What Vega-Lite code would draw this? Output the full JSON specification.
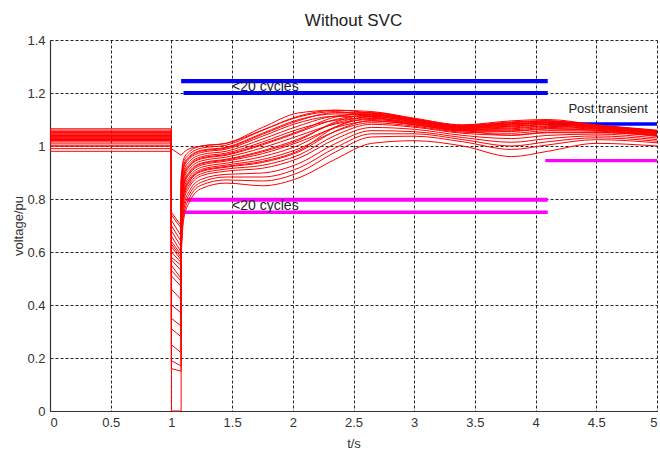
{
  "$schema": "https://vega.github.io/schema/vega-lite/v6.json",
  "width": 607,
  "height": 371,
  "autosize": {"type": "none"},
  "padding": {"left": 50, "top": 40, "right": 3, "bottom": 38},
  "background": "white",
  "config": {
    "view": {"stroke": null},
    "font": "Liberation Sans",
    "axis": {
      "grid": true, "gridColor": "#000000", "gridDash": [3, 2], "gridOpacity": 0.85, "gridWidth": 1,
      "domainColor": "#333333", "domainWidth": 1.2, "ticks": false,
      "labelFont": "Liberation Sans", "labelFontSize": 13, "labelColor": "#333333", "labelPadding": 5,
      "titleFont": "Liberation Sans", "titleFontSize": 13, "titleFontWeight": "normal", "titleColor": "#333333"
    }
  },
  "title": {"text": "Without SVC", "fontSize": 17, "fontWeight": "normal", "font": "Liberation Sans", "color": "#222222", "anchor": "middle", "offset": 4},
  "datasets": {
    "pre": [
      {"c":1,"i":0,"t":0,"v":1.065},{"c":1,"i":1,"t":1,"v":1.065},{"c":1,"i":2,"t":1,"v":0.72},{"c":1,"i":3,"t":1.08,"v":0.66},{"c":1,"i":4,"t":1.08,"v":0.88},
      {"c":2,"i":0,"t":0,"v":1.055},{"c":2,"i":1,"t":1,"v":1.055},{"c":2,"i":2,"t":1,"v":0.70},{"c":2,"i":3,"t":1.08,"v":0.64},{"c":2,"i":4,"t":1.08,"v":0.86},
      {"c":3,"i":0,"t":0,"v":1.05},{"c":3,"i":1,"t":1,"v":1.05},{"c":3,"i":2,"t":1,"v":0.68},{"c":3,"i":3,"t":1.08,"v":0.62},{"c":3,"i":4,"t":1.08,"v":0.84},
      {"c":4,"i":0,"t":0,"v":1.05},{"c":4,"i":1,"t":1,"v":1.05},{"c":4,"i":2,"t":1,"v":0.66},{"c":4,"i":3,"t":1.08,"v":0.60},{"c":4,"i":4,"t":1.08,"v":0.82},
      {"c":5,"i":0,"t":0,"v":1.045},{"c":5,"i":1,"t":1,"v":1.045},{"c":5,"i":2,"t":1,"v":0.64},{"c":5,"i":3,"t":1.08,"v":0.59},{"c":5,"i":4,"t":1.08,"v":0.80},
      {"c":6,"i":0,"t":0,"v":1.04},{"c":6,"i":1,"t":1,"v":1.04},{"c":6,"i":2,"t":1,"v":0.62},{"c":6,"i":3,"t":1.08,"v":0.57},{"c":6,"i":4,"t":1.08,"v":0.78},
      {"c":7,"i":0,"t":0,"v":1.04},{"c":7,"i":1,"t":1,"v":1.04},{"c":7,"i":2,"t":1,"v":0.60},{"c":7,"i":3,"t":1.08,"v":0.56},{"c":7,"i":4,"t":1.08,"v":0.76},
      {"c":8,"i":0,"t":0,"v":1.035},{"c":8,"i":1,"t":1,"v":1.035},{"c":8,"i":2,"t":1,"v":0.58},{"c":8,"i":3,"t":1.08,"v":0.55},{"c":8,"i":4,"t":1.08,"v":0.75},
      {"c":9,"i":0,"t":0,"v":1.03},{"c":9,"i":1,"t":1,"v":1.03},{"c":9,"i":2,"t":1,"v":0.51},{"c":9,"i":3,"t":1.08,"v":0.47},{"c":9,"i":4,"t":1.08,"v":0.74},
      {"c":10,"i":0,"t":0,"v":1.03},{"c":10,"i":1,"t":1,"v":1.03},{"c":10,"i":2,"t":1,"v":0.46},{"c":10,"i":3,"t":1.08,"v":0.42},{"c":10,"i":4,"t":1.08,"v":0.73},
      {"c":11,"i":0,"t":0,"v":1.025},{"c":11,"i":1,"t":1,"v":1.025},{"c":11,"i":2,"t":1,"v":0.40},{"c":11,"i":3,"t":1.08,"v":0.37},{"c":11,"i":4,"t":1.08,"v":0.72},
      {"c":12,"i":0,"t":0,"v":1.025},{"c":12,"i":1,"t":1,"v":1.025},{"c":12,"i":2,"t":1,"v":0.35},{"c":12,"i":3,"t":1.08,"v":0.32},{"c":12,"i":4,"t":1.08,"v":0.71},
      {"c":13,"i":0,"t":0,"v":1.02},{"c":13,"i":1,"t":1,"v":1.02},{"c":13,"i":2,"t":1,"v":0.31},{"c":13,"i":3,"t":1.08,"v":0.28},{"c":13,"i":4,"t":1.08,"v":0.70},
      {"c":14,"i":0,"t":0,"v":1.02},{"c":14,"i":1,"t":1,"v":1.02},{"c":14,"i":2,"t":1,"v":0.25},{"c":14,"i":3,"t":1.08,"v":0.22},{"c":14,"i":4,"t":1.08,"v":0.68},
      {"c":15,"i":0,"t":0,"v":1.015},{"c":15,"i":1,"t":1,"v":1.015},{"c":15,"i":2,"t":1,"v":0.19},{"c":15,"i":3,"t":1.08,"v":0.17},{"c":15,"i":4,"t":1.08,"v":0.66},
      {"c":16,"i":0,"t":0,"v":1.008},{"c":16,"i":1,"t":1,"v":1.008},{"c":16,"i":2,"t":1,"v":0.16},{"c":16,"i":3,"t":1.08,"v":0.15},{"c":16,"i":4,"t":1.08,"v":0.64},
      {"c":17,"i":0,"t":0,"v":1.0},{"c":17,"i":1,"t":1,"v":1.0},{"c":17,"i":2,"t":1,"v":0.0},{"c":17,"i":3,"t":1.08,"v":0.0},{"c":17,"i":4,"t":1.08,"v":0.62},
      {"c":18,"i":0,"t":0,"v":0.99},{"c":18,"i":1,"t":1,"v":0.99},{"c":18,"i":2,"t":1,"v":0.55},{"c":18,"i":3,"t":1.08,"v":0.50},{"c":18,"i":4,"t":1.08,"v":0.60},
      {"c":19,"i":0,"t":0,"v":0.98},{"c":19,"i":1,"t":1,"v":0.98},{"c":19,"i":2,"t":1,"v":0.75},{"c":19,"i":3,"t":1.08,"v":0.70},{"c":19,"i":4,"t":1.08,"v":0.58},
      {"c":20,"i":0,"t":0,"v":1.0},{"c":20,"i":1,"t":1,"v":1.0},{"c":20,"i":2,"t":1,"v":0.99},{"c":20,"i":3,"t":1.08,"v":0.965},{"c":20,"i":4,"t":1.08,"v":0.965},
      {"c":21,"i":0,"t":0,"v":1.06},{"c":21,"i":1,"t":1,"v":1.06},{"c":21,"i":2,"t":1,"v":0.74},{"c":21,"i":3,"t":1.08,"v":0.69},{"c":21,"i":4,"t":1.08,"v":0.87},
      {"c":22,"i":0,"t":0,"v":1.045},{"c":22,"i":1,"t":1,"v":1.045},{"c":22,"i":2,"t":1,"v":0.63},{"c":22,"i":3,"t":1.08,"v":0.58},{"c":22,"i":4,"t":1.08,"v":0.79},
      {"c":23,"i":0,"t":0,"v":1.035},{"c":23,"i":1,"t":1,"v":1.035},{"c":23,"i":2,"t":1,"v":0.57},{"c":23,"i":3,"t":1.08,"v":0.53},{"c":23,"i":4,"t":1.08,"v":0.75},
      {"c":24,"i":0,"t":0,"v":1.03},{"c":24,"i":1,"t":1,"v":1.03},{"c":24,"i":2,"t":1,"v":0.53},{"c":24,"i":3,"t":1.08,"v":0.49},{"c":24,"i":4,"t":1.08,"v":0.72}
    ],
    "post": [
      {"c":1,"t":1.08,"v":0.88},{"c":1,"t":1.1,"v":0.95},{"c":1,"t":1.15,"v":0.98},{"c":1,"t":1.25,"v":1.0},{"c":1,"t":1.45,"v":1.01},{"c":1,"t":1.75,"v":1.07},{"c":1,"t":2.05,"v":1.125},{"c":1,"t":2.35,"v":1.135},{"c":1,"t":2.65,"v":1.124},{"c":1,"t":3.0,"v":1.101},{"c":1,"t":3.4,"v":1.076},{"c":1,"t":3.8,"v":1.088},{"c":1,"t":4.1,"v":1.094},{"c":1,"t":4.5,"v":1.077},{"c":1,"t":5.0,"v":1.057},
      {"c":2,"t":1.08,"v":0.86},{"c":2,"t":1.1,"v":0.939},{"c":2,"t":1.15,"v":0.97},{"c":2,"t":1.25,"v":0.992},{"c":2,"t":1.45,"v":1.003},{"c":2,"t":1.75,"v":1.059},{"c":2,"t":2.05,"v":1.113},{"c":2,"t":2.35,"v":1.135},{"c":2,"t":2.65,"v":1.13},{"c":2,"t":3.0,"v":1.105},{"c":2,"t":3.4,"v":1.08},{"c":2,"t":3.8,"v":1.095},{"c":2,"t":4.1,"v":1.1},{"c":2,"t":4.5,"v":1.08},{"c":2,"t":5.0,"v":1.06},
      {"c":3,"t":1.08,"v":0.84},{"c":3,"t":1.1,"v":0.927},{"c":3,"t":1.15,"v":0.961},{"c":3,"t":1.25,"v":0.984},{"c":3,"t":1.45,"v":0.995},{"c":3,"t":1.75,"v":1.048},{"c":3,"t":2.05,"v":1.1},{"c":3,"t":2.35,"v":1.121},{"c":3,"t":2.65,"v":1.118},{"c":3,"t":3.0,"v":1.097},{"c":3,"t":3.4,"v":1.072},{"c":3,"t":3.8,"v":1.082},{"c":3,"t":4.1,"v":1.088},{"c":3,"t":4.5,"v":1.073},{"c":3,"t":5.0,"v":1.054},
      {"c":4,"t":1.08,"v":0.82},{"c":4,"t":1.1,"v":0.916},{"c":4,"t":1.15,"v":0.952},{"c":4,"t":1.25,"v":0.976},{"c":4,"t":1.45,"v":0.988},{"c":4,"t":1.75,"v":1.037},{"c":4,"t":2.05,"v":1.088},{"c":4,"t":2.35,"v":1.112},{"c":4,"t":2.65,"v":1.112},{"c":4,"t":3.0,"v":1.092},{"c":4,"t":3.4,"v":1.068},{"c":4,"t":3.8,"v":1.075},{"c":4,"t":4.1,"v":1.082},{"c":4,"t":4.5,"v":1.07},{"c":4,"t":5.0,"v":1.051},
      {"c":5,"t":1.08,"v":0.80},{"c":5,"t":1.1,"v":0.904},{"c":5,"t":1.15,"v":0.942},{"c":5,"t":1.25,"v":0.968},{"c":5,"t":1.45,"v":0.98},{"c":5,"t":1.75,"v":1.026},{"c":5,"t":2.05,"v":1.076},{"c":5,"t":2.35,"v":1.113},{"c":5,"t":2.65,"v":1.12},{"c":5,"t":3.0,"v":1.098},{"c":5,"t":3.4,"v":1.074},{"c":5,"t":3.8,"v":1.084},{"c":5,"t":4.1,"v":1.09},{"c":5,"t":4.5,"v":1.074},{"c":5,"t":5.0,"v":1.055},
      {"c":6,"t":1.08,"v":0.78},{"c":6,"t":1.1,"v":0.893},{"c":6,"t":1.15,"v":0.933},{"c":6,"t":1.25,"v":0.96},{"c":6,"t":1.45,"v":0.973},{"c":6,"t":1.75,"v":1.015},{"c":6,"t":2.05,"v":1.064},{"c":6,"t":2.35,"v":1.097},{"c":6,"t":2.65,"v":1.106},{"c":6,"t":3.0,"v":1.088},{"c":6,"t":3.4,"v":1.064},{"c":6,"t":3.8,"v":1.068},{"c":6,"t":4.1,"v":1.076},{"c":6,"t":4.5,"v":1.066},{"c":6,"t":5.0,"v":1.048},
      {"c":7,"t":1.08,"v":0.76},{"c":7,"t":1.1,"v":0.881},{"c":7,"t":1.15,"v":0.923},{"c":7,"t":1.25,"v":0.952},{"c":7,"t":1.45,"v":0.965},{"c":7,"t":1.75,"v":1.004},{"c":7,"t":2.05,"v":1.052},{"c":7,"t":2.35,"v":1.1},{"c":7,"t":2.65,"v":1.116},{"c":7,"t":3.0,"v":1.095},{"c":7,"t":3.4,"v":1.07},{"c":7,"t":3.8,"v":1.079},{"c":7,"t":4.1,"v":1.086},{"c":7,"t":4.5,"v":1.072},{"c":7,"t":5.0,"v":1.053},
      {"c":8,"t":1.08,"v":0.75},{"c":8,"t":1.1,"v":0.87},{"c":8,"t":1.15,"v":0.914},{"c":8,"t":1.25,"v":0.944},{"c":8,"t":1.45,"v":0.958},{"c":8,"t":1.75,"v":0.993},{"c":8,"t":2.05,"v":1.039},{"c":8,"t":2.35,"v":1.083},{"c":8,"t":2.65,"v":1.1},{"c":8,"t":3.0,"v":1.084},{"c":8,"t":3.4,"v":1.06},{"c":8,"t":3.8,"v":1.061},{"c":8,"t":4.1,"v":1.07},{"c":8,"t":4.5,"v":1.063},{"c":8,"t":5.0,"v":1.045},
      {"c":9,"t":1.08,"v":0.74},{"c":9,"t":1.1,"v":0.858},{"c":9,"t":1.15,"v":0.904},{"c":9,"t":1.25,"v":0.936},{"c":9,"t":1.45,"v":0.95},{"c":9,"t":1.75,"v":0.982},{"c":9,"t":2.05,"v":1.027},{"c":9,"t":2.35,"v":1.086},{"c":9,"t":2.65,"v":1.11},{"c":9,"t":3.0,"v":1.091},{"c":9,"t":3.4,"v":1.066},{"c":9,"t":3.8,"v":1.072},{"c":9,"t":4.1,"v":1.08},{"c":9,"t":4.5,"v":1.068},{"c":9,"t":5.0,"v":1.05},
      {"c":10,"t":1.08,"v":0.73},{"c":10,"t":1.1,"v":0.847},{"c":10,"t":1.15,"v":0.895},{"c":10,"t":1.25,"v":0.928},{"c":10,"t":1.45,"v":0.943},{"c":10,"t":1.75,"v":0.971},{"c":10,"t":2.05,"v":1.015},{"c":10,"t":2.35,"v":1.069},{"c":10,"t":2.65,"v":1.094},{"c":10,"t":3.0,"v":1.08},{"c":10,"t":3.4,"v":1.056},{"c":10,"t":3.8,"v":1.055},{"c":10,"t":4.1,"v":1.064},{"c":10,"t":4.5,"v":1.059},{"c":10,"t":5.0,"v":1.042},
      {"c":11,"t":1.08,"v":0.72},{"c":11,"t":1.1,"v":0.835},{"c":11,"t":1.15,"v":0.885},{"c":11,"t":1.25,"v":0.92},{"c":11,"t":1.45,"v":0.935},{"c":11,"t":1.75,"v":0.96},{"c":11,"t":2.05,"v":1.003},{"c":11,"t":2.35,"v":1.072},{"c":11,"t":2.65,"v":1.104},{"c":11,"t":3.0,"v":1.086},{"c":11,"t":3.4,"v":1.062},{"c":11,"t":3.8,"v":1.065},{"c":11,"t":4.1,"v":1.074},{"c":11,"t":4.5,"v":1.065},{"c":11,"t":5.0,"v":1.047},
      {"c":12,"t":1.08,"v":0.71},{"c":12,"t":1.1,"v":0.824},{"c":12,"t":1.15,"v":0.876},{"c":12,"t":1.25,"v":0.912},{"c":12,"t":1.45,"v":0.928},{"c":12,"t":1.75,"v":0.949},{"c":12,"t":2.05,"v":0.99},{"c":12,"t":2.35,"v":1.055},{"c":12,"t":2.65,"v":1.088},{"c":12,"t":3.0,"v":1.075},{"c":12,"t":3.4,"v":1.052},{"c":12,"t":3.8,"v":1.048},{"c":12,"t":4.1,"v":1.058},{"c":12,"t":4.5,"v":1.056},{"c":12,"t":5.0,"v":1.039},
      {"c":13,"t":1.08,"v":0.70},{"c":13,"t":1.1,"v":0.812},{"c":13,"t":1.15,"v":0.866},{"c":13,"t":1.25,"v":0.904},{"c":13,"t":1.45,"v":0.92},{"c":13,"t":1.75,"v":0.938},{"c":13,"t":2.05,"v":0.978},{"c":13,"t":2.35,"v":1.056},{"c":13,"t":2.65,"v":1.096},{"c":13,"t":3.0,"v":1.081},{"c":13,"t":3.4,"v":1.058},{"c":13,"t":3.8,"v":1.057},{"c":13,"t":4.1,"v":1.066},{"c":13,"t":4.5,"v":1.06},{"c":13,"t":5.0,"v":1.043},
      {"c":14,"t":1.08,"v":0.68},{"c":14,"t":1.1,"v":0.80},{"c":14,"t":1.15,"v":0.857},{"c":14,"t":1.25,"v":0.896},{"c":14,"t":1.45,"v":0.913},{"c":14,"t":1.75,"v":0.927},{"c":14,"t":2.05,"v":0.966},{"c":14,"t":2.35,"v":1.04},{"c":14,"t":2.65,"v":1.082},{"c":14,"t":3.0,"v":1.071},{"c":14,"t":3.4,"v":1.048},{"c":14,"t":3.8,"v":1.041},{"c":14,"t":4.1,"v":1.052},{"c":14,"t":4.5,"v":1.052},{"c":14,"t":5.0,"v":1.036},
      {"c":15,"t":1.08,"v":0.66},{"c":15,"t":1.1,"v":0.789},{"c":15,"t":1.15,"v":0.847},{"c":15,"t":1.25,"v":0.888},{"c":15,"t":1.45,"v":0.905},{"c":15,"t":1.75,"v":0.916},{"c":15,"t":2.05,"v":0.954},{"c":15,"t":2.35,"v":1.026},{"c":15,"t":2.65,"v":1.07},{"c":15,"t":3.0,"v":1.063},{"c":15,"t":3.4,"v":1.04},{"c":15,"t":3.8,"v":1.028},{"c":15,"t":4.1,"v":1.04},{"c":15,"t":4.5,"v":1.045},{"c":15,"t":5.0,"v":1.03},
      {"c":16,"t":1.08,"v":0.64},{"c":16,"t":1.1,"v":0.771},{"c":16,"t":1.15,"v":0.832},{"c":16,"t":1.25,"v":0.875},{"c":16,"t":1.45,"v":0.893},{"c":16,"t":1.75,"v":0.898},{"c":16,"t":2.05,"v":0.934},{"c":16,"t":2.35,"v":1.009},{"c":16,"t":2.65,"v":1.058},{"c":16,"t":3.0,"v":1.054},{"c":16,"t":3.4,"v":1.032},{"c":16,"t":3.8,"v":1.014},{"c":16,"t":4.1,"v":1.028},{"c":16,"t":4.5,"v":1.038},{"c":16,"t":5.0,"v":1.024},
      {"c":17,"t":1.08,"v":0.62},{"c":17,"t":1.1,"v":0.755},{"c":17,"t":1.15,"v":0.819},{"c":17,"t":1.25,"v":0.864},{"c":17,"t":1.45,"v":0.883},{"c":17,"t":1.75,"v":0.883},{"c":17,"t":2.05,"v":0.917},{"c":17,"t":2.35,"v":0.993},{"c":17,"t":2.65,"v":1.046},{"c":17,"t":3.0,"v":1.046},{"c":17,"t":3.4,"v":1.024},{"c":17,"t":3.8,"v":1.0},{"c":17,"t":4.1,"v":1.016},{"c":17,"t":4.5,"v":1.031},{"c":17,"t":5.0,"v":1.018},
      {"c":18,"t":1.08,"v":0.60},{"c":18,"t":1.1,"v":0.738},{"c":18,"t":1.15,"v":0.805},{"c":18,"t":1.25,"v":0.853},{"c":18,"t":1.45,"v":0.872},{"c":18,"t":1.75,"v":0.868},{"c":18,"t":2.05,"v":0.9},{"c":18,"t":2.35,"v":0.977},{"c":18,"t":2.65,"v":1.034},{"c":18,"t":3.0,"v":1.037},{"c":18,"t":3.4,"v":1.016},{"c":18,"t":3.8,"v":0.987},{"c":18,"t":4.1,"v":1.004},{"c":18,"t":4.5,"v":1.024},{"c":18,"t":5.0,"v":1.012},
      {"c":19,"t":1.08,"v":0.58},{"c":19,"t":1.1,"v":0.72},{"c":19,"t":1.15,"v":0.79},{"c":19,"t":1.25,"v":0.84},{"c":19,"t":1.45,"v":0.86},{"c":19,"t":1.75,"v":0.85},{"c":19,"t":2.05,"v":0.88},{"c":19,"t":2.35,"v":0.95},{"c":19,"t":2.65,"v":1.01},{"c":19,"t":3.0,"v":1.02},{"c":19,"t":3.4,"v":1.0},{"c":19,"t":3.8,"v":0.96},{"c":19,"t":4.1,"v":0.98},{"c":19,"t":4.5,"v":1.01},{"c":19,"t":5.0,"v":1.0},
      {"c":20,"t":1.08,"v":0.965},{"c":20,"t":1.1,"v":0.975},{"c":20,"t":1.15,"v":0.99},{"c":20,"t":1.25,"v":1.0},{"c":20,"t":1.45,"v":1.01},{"c":20,"t":1.75,"v":1.06},{"c":20,"t":2.05,"v":1.11},{"c":20,"t":2.35,"v":1.13},{"c":20,"t":2.65,"v":1.11},{"c":20,"t":3.0,"v":1.08},{"c":20,"t":3.4,"v":1.06},{"c":20,"t":3.8,"v":1.04},{"c":20,"t":4.1,"v":1.05},{"c":20,"t":4.5,"v":1.05},{"c":20,"t":5.0,"v":1.04},
      {"c":21,"t":1.08,"v":0.87},{"c":21,"t":1.1,"v":0.922},{"c":21,"t":1.15,"v":0.957},{"c":21,"t":1.25,"v":0.981},{"c":21,"t":1.45,"v":0.992},{"c":21,"t":1.75,"v":1.044},{"c":21,"t":2.05,"v":1.096},{"c":21,"t":2.35,"v":1.126},{"c":21,"t":2.65,"v":1.126},{"c":21,"t":3.0,"v":1.102},{"c":21,"t":3.4,"v":1.078},{"c":21,"t":3.8,"v":1.091},{"c":21,"t":4.1,"v":1.096},{"c":21,"t":4.5,"v":1.078},{"c":21,"t":5.0,"v":1.058},
      {"c":22,"t":1.08,"v":0.79},{"c":22,"t":1.1,"v":0.886},{"c":22,"t":1.15,"v":0.927},{"c":22,"t":1.25,"v":0.955},{"c":22,"t":1.45,"v":0.968},{"c":22,"t":1.75,"v":1.008},{"c":22,"t":2.05,"v":1.056},{"c":22,"t":2.35,"v":1.109},{"c":22,"t":2.65,"v":1.124},{"c":22,"t":3.0,"v":1.101},{"c":22,"t":3.4,"v":1.076},{"c":22,"t":3.8,"v":1.088},{"c":22,"t":4.1,"v":1.094},{"c":22,"t":4.5,"v":1.077},{"c":22,"t":5.0,"v":1.057},
      {"c":23,"t":1.08,"v":0.75},{"c":23,"t":1.1,"v":0.853},{"c":23,"t":1.15,"v":0.90},{"c":23,"t":1.25,"v":0.933},{"c":23,"t":1.45,"v":0.947},{"c":23,"t":1.75,"v":0.978},{"c":23,"t":2.05,"v":1.022},{"c":23,"t":2.35,"v":1.091},{"c":23,"t":2.65,"v":1.118},{"c":23,"t":3.0,"v":1.097},{"c":23,"t":3.4,"v":1.072},{"c":23,"t":3.8,"v":1.082},{"c":23,"t":4.1,"v":1.088},{"c":23,"t":4.5,"v":1.073},{"c":23,"t":5.0,"v":1.054},
      {"c":24,"t":1.08,"v":0.72},{"c":24,"t":1.1,"v":0.817},{"c":24,"t":1.15,"v":0.87},{"c":24,"t":1.25,"v":0.907},{"c":24,"t":1.45,"v":0.923},{"c":24,"t":1.75,"v":0.942},{"c":24,"t":2.05,"v":0.983},{"c":24,"t":2.35,"v":1.071},{"c":24,"t":2.65,"v":1.112},{"c":24,"t":3.0,"v":1.092},{"c":24,"t":3.4,"v":1.068},{"c":24,"t":3.8,"v":1.075},{"c":24,"t":4.1,"v":1.082},{"c":24,"t":4.5,"v":1.07},{"c":24,"t":5.0,"v":1.051}
    ],
    "lim": [
      {"lim":"upper_a","t":1.08,"t2":4.1,"v":1.245},
      {"lim":"upper_b","t":1.1,"t2":4.1,"v":1.2},
      {"lim":"lower_a","t":1.13,"t2":4.1,"v":0.797},
      {"lim":"lower_b","t":1.1,"t2":4.1,"v":0.75},
      {"lim":"post_up","t":4.1,"t2":5.0,"v":1.083},
      {"lim":"post_low","t":4.08,"t2":5.0,"v":0.945}
    ],
    "txt": [
      {"t":1.5,"v":1.222,"label":"<20 cycles"},
      {"t":1.5,"v":0.774,"label":"<20 cycles"}
    ],
    "txt2": [
      {"t":4.27,"v":1.14,"label":"Post transient"}
    ]
  },
  "encoding": {
    "x": {"field": "t", "type": "quantitative", "scale": {"domain": [0, 5], "nice": false, "zero": false},
      "axis": {"values": [0, 0.5, 1, 1.5, 2, 2.5, 3, 3.5, 4, 4.5, 5], "format": "~g", "title": "t/s", "titleY": 32, "titleBaseline": "middle"}},
    "y": {"field": "v", "type": "quantitative", "scale": {"domain": [0, 1.4], "nice": false},
      "axis": {"values": [0, 0.2, 0.4, 0.6, 0.8, 1, 1.2, 1.4], "format": "~g", "title": "voltage/pu", "titleX": -32, "titleBaseline": "middle", "titleAlign": "center"}}
  },
  "layer": [
    {
      "data": {"name": "lim"},
      "mark": {"type": "rule"},
      "encoding": {
        "x2": {"field": "t2"},
        "color": {"field": "lim", "type": "nominal", "legend": null,
          "scale": {"domain": ["upper_a", "upper_b", "lower_a", "lower_b", "post_up", "post_low"], "range": ["#0000FF", "#0000FF", "#FF00FF", "#FF00FF", "#0000FF", "#FF00FF"]}},
        "strokeWidth": {"field": "lim", "type": "nominal", "legend": null,
          "scale": {"domain": ["upper_a", "upper_b", "lower_a", "lower_b", "post_up", "post_low"], "range": [4.3, 3.2, 3, 3.8, 3.8, 3]}}
      }
    },
    {
      "data": {"name": "pre"},
      "mark": {"type": "line", "color": "#FF0000", "strokeWidth": 1, "interpolate": "linear"},
      "encoding": {"detail": {"field": "c", "type": "nominal"}, "order": {"field": "i", "type": "quantitative"}}
    },
    {
      "data": {"name": "post"},
      "mark": {"type": "line", "color": "#FF0000", "strokeWidth": 1, "interpolate": "monotone"},
      "encoding": {"detail": {"field": "c", "type": "nominal"}}
    },
    {
      "data": {"name": "txt"},
      "mark": {"type": "text", "align": "left", "baseline": "middle", "fontSize": 14, "font": "Liberation Sans", "color": "#222222"},
      "encoding": {"text": {"field": "label"}}
    },
    {
      "data": {"name": "txt2"},
      "mark": {"type": "text", "align": "left", "baseline": "middle", "fontSize": 13, "font": "Liberation Sans", "color": "#222222"},
      "encoding": {"text": {"field": "label"}}
    }
  ]
}
